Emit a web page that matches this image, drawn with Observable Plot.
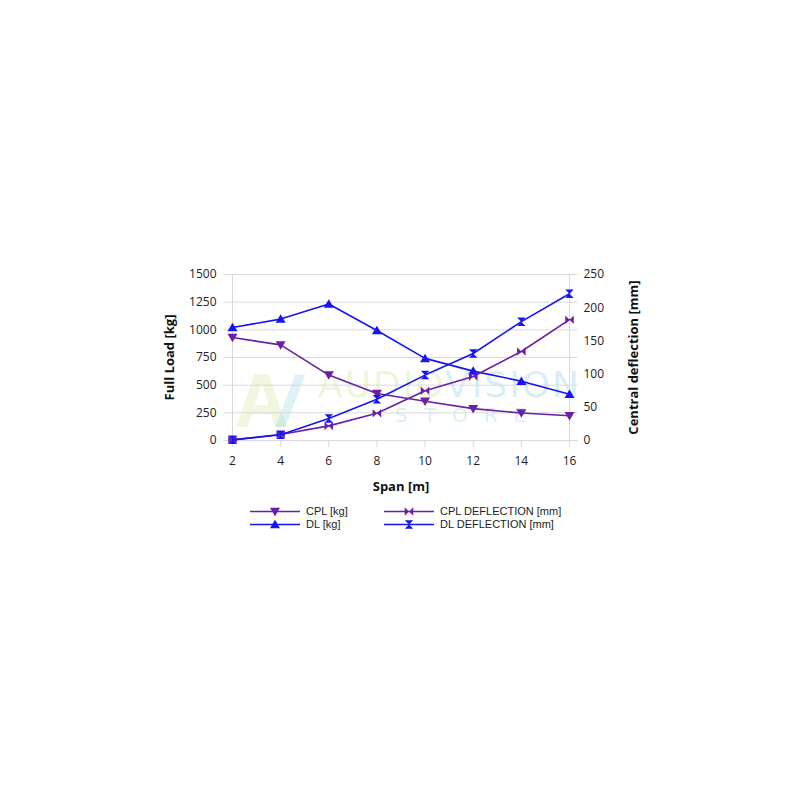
<!DOCTYPE html>
<html>
<head>
<meta charset="utf-8">
<script src="https://cdn.jsdelivr.net/npm/d3@7"></script>
<script src="https://cdn.jsdelivr.net/npm/@observablehq/plot@0.6"></script>
<style>
  html, body { margin: 0; padding: 0; background: #fff; }
  body { width: 800px; height: 800px; position: relative; font-family: "Open Sans", "Noto Sans", sans-serif; overflow: hidden; }
  #chart { position: absolute; left: 0; top: 0; z-index: 2; }
  #wm { position: absolute; left: 0; top: 0; width: 800px; height: 800px; z-index: 1; pointer-events: none; }
  #legend { position: absolute; left: 0; top: 505px; width: 800px; z-index: 3; font-family: "Liberation Sans", Arial, sans-serif; font-size: 11px; color: #222; }
  .col { position: absolute; top: 0; display: flex; align-items: flex-start; }
  .col svg { display: block; margin-right: 6px; }
  .col .txt { line-height: 13px; white-space: nowrap; }
</style>
</head>
<body>
<div id="wm">
  <div style="position:absolute;left:236px;top:362px;font:bold 74px 'Open Sans',sans-serif;color:rgba(190,215,110,0.22);letter-spacing:-12px;line-height:74px;">A<span style="color:rgba(120,200,220,0.25)">/</span></div>
  <div style="position:absolute;left:318px;top:368px;font:36px 'DejaVu Sans',sans-serif;letter-spacing:2px;line-height:34px;height:34px;"><span style="color:rgba(195,220,120,0.3)">AUDIO</span><span style="color:rgba(120,200,220,0.3)">VISION</span></div>
  <div style="position:absolute;left:395px;top:405px;font:20px 'DejaVu Sans',sans-serif;letter-spacing:16px;color:rgba(120,200,220,0.3);line-height:20px;height:20px;">STORE</div>
</div>
<div id="chart"></div>
<div id="legend"></div>
<script>
const span = [2, 4, 6, 8, 10, 12, 14, 16];
const cplKg = [930, 864, 591, 424, 355, 288, 248, 224];
const dlKg = [1021, 1097, 1233, 994, 742, 627, 536, 418];
const cplDefl = [1, 9, 22, 41, 75, 96.5, 134, 182];
const dlDefl = [1, 8.6, 33, 62, 98.5, 131, 179, 221];
const leftTicks = [0, 250, 500, 750, 1000, 1250, 1500];
const rightTicks = [0, 50, 100, 150, 200, 250];
const seriesNames = ["CPL [kg]", "DL [kg]", "CPL DEFLECTION [mm]", "DL DEFLECTION [mm]"];

const PURPLE = "#6a1fa5";
const BLUE = "#1414f5";
const ratio = 1500 / 250;

const symDown = { draw(c, size) { const r = Math.sqrt(size / Math.PI); c.moveTo(-r, -r * 0.75); c.lineTo(r, -r * 0.75); c.lineTo(0, r * 0.95); c.closePath(); } };
const symUp = { draw(c, size) { const r = Math.sqrt(size / Math.PI); c.moveTo(-r, r * 0.75); c.lineTo(r, r * 0.75); c.lineTo(0, -r * 0.95); c.closePath(); } };
const symBow = { draw(c, size) { const r = Math.sqrt(size / Math.PI) * 0.85;
  c.moveTo(-r, -r); c.lineTo(0, 0); c.lineTo(-r, r); c.closePath();
  c.moveTo(r, -r); c.lineTo(0, 0); c.lineTo(r, r); c.closePath(); } };
const symHour = { draw(c, size) { const r = Math.sqrt(size / Math.PI) * 0.85;
  c.moveTo(-r, -r); c.lineTo(r, -r); c.lineTo(0, 0); c.closePath();
  c.moveTo(-r, r); c.lineTo(r, r); c.lineTo(0, 0); c.closePath(); } };

const series = [
  { name: seriesNames[0], vals: cplKg, k: 1, color: PURPLE, sym: symDown },
  { name: seriesNames[1], vals: dlKg, k: 1, color: BLUE, sym: symUp },
  { name: seriesNames[2], vals: cplDefl, k: ratio, color: PURPLE, sym: symBow },
  { name: seriesNames[3], vals: dlDefl, k: ratio, color: BLUE, sym: symHour }
];
const rows = series.flatMap(s => span.map((x, i) => ({ series: s.name, x, y: s.vals[i] * s.k })));

const marks = [
  Plot.ruleY(leftTicks, { x1: 1.65, x2: 16.35, stroke: "#d9d9d9", strokeWidth: 1 }),
  Plot.ruleX([2, 16], { y1: 0, y2: 1500, stroke: "#d9d9d9" }),
  Plot.axisY({ anchor: "left", ticks: leftTicks, tickFormat: v => String(v), tickSize: 0, tickPadding: 16, label: "Full Load [kg]", labelAnchor: "center", labelOffset: 68, labelArrow: false, fontSize: 12 }),
  Plot.axisY({ anchor: "right", ticks: rightTicks.map(v => v * ratio), tickFormat: v => String(v / ratio), tickSize: 0, tickPadding: 14, label: "Central deflection [mm]", labelAnchor: "center", labelOffset: 68, labelArrow: false, fontSize: 12 }),
  Plot.axisX({ ticks: span, tickSize: 7, tickPadding: 9, stroke: "#d9d9d9", tickFormat: v => String(v), label: "Span [m]", labelAnchor: "center", labelOffset: 50, labelArrow: false, fontSize: 12 })
];
series.forEach(s => {
  const d = rows.filter(r => r.series === s.name);
  marks.push(Plot.line(d, { x: "x", y: "y", stroke: s.color, strokeWidth: 1.6 }));
  marks.push(Plot.dot(d, { x: "x", y: "y", fill: s.color, stroke: "none", symbol: s.sym, r: 5 }));
});

const chart = Plot.plot({
  width: 800,
  height: 500,
  marginLeft: 232,
  marginRight: 231,
  marginTop: 274,
  marginBottom: 60,
  style: { background: "transparent", fontFamily: "'Open Sans', 'Noto Sans', sans-serif", fontSize: "12px", color: "#222" },
  x: { domain: [2, 16] },
  y: { domain: [0, 1500] },
  marks
});
chart.querySelectorAll("g[aria-label='y-axis label'] text, g[aria-label='x-axis label'] text").forEach(t => {
  t.setAttribute("font-weight", "bold");
  t.setAttribute("font-size", "13");
  t.setAttribute("fill", "#111");
});
document.getElementById("chart").appendChild(chart);

// legend: two columns, each with two stacked entries
const legend = document.getElementById("legend");
const colLeft = [250, 384];
[[series[0], series[1]], [series[2], series[3]]].forEach((pair, ci) => {
  const col = document.createElement("div");
  col.className = "col";
  col.style.left = colLeft[ci] + "px";
  const sv = d3.create("svg").attr("width", 50).attr("height", 26);
  pair.forEach((s, ri) => {
    const cy = 6.5 + ri * 13;
    sv.append("line").attr("x1", 0).attr("x2", 50).attr("y1", cy).attr("y2", cy).attr("stroke", s.color).attr("stroke-width", 1.6);
    sv.append("path").attr("transform", `translate(25,${cy})`).attr("fill", s.color).attr("d", d3.symbol(s.sym, Math.PI * 25)());
  });
  col.appendChild(sv.node());
  const tx = document.createElement("div");
  tx.className = "txt";
  tx.innerHTML = pair.map(s => s.name).join("<br>");
  col.appendChild(tx);
  legend.appendChild(col);
});
</script>
</body>
</html>
